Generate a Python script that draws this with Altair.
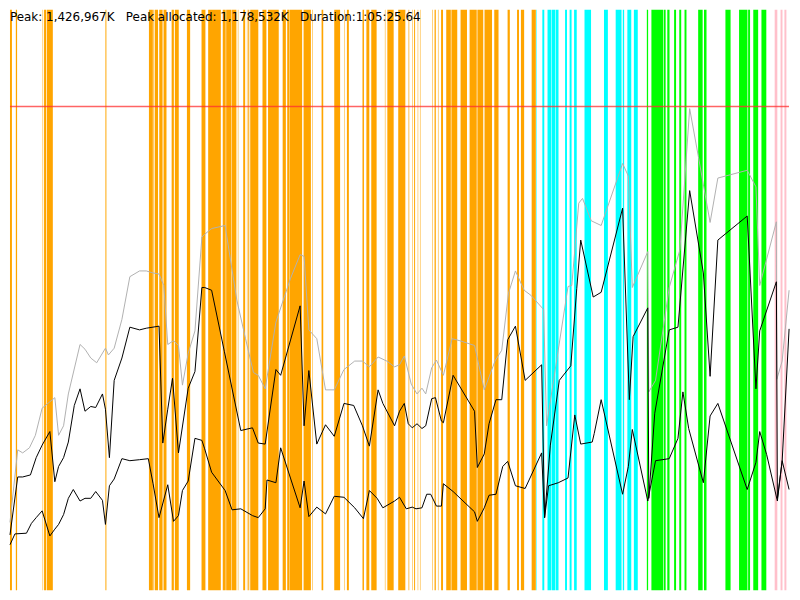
import altair as alt
import pandas as pd

# ---- summary values (text at top) ----
peak_k = "1,426,967K"
peak_alloc_k = "1,178,532K"
duration = "1:05:25.64"
duration_s = 3925.64
peak_mb = 1426.967
y_max_mb = 1712.4

# ---- GC / phase bars: start and end time (seconds) ----
orange_start = [0, 29.4, 164.4, 171.7, 186.5, 480.9, 700.2, 722.8, 729.7, 752.2, 773.8, 814.6, 830.8, 891.6, 965.2,
                998.6, 1072.2, 1089.4, 1118.8, 1148.2, 1175.2, 1193.9, 1200.7, 1210.6, 1272.4, 1300.4, 1374, 1397,
                1408.3, 1479.5, 1523.6, 1570.2, 1634, 1685.6, 1697.8, 1776.3, 1796, 1820.5, 1889.2, 1901.5, 1956.4,
                2008.4, 2026.6, 2036.4, 2054.6, 2065.9, 2127.2, 2139.5, 2156.6, 2172.3, 2198.3, 2224.4, 2270.5,
                2316.1, 2355.4, 2391.2, 2440.3, 2507.5, 2555.1, 2574.7, 2628.7]
orange_end = [9.8, 35.8, 166.8, 183, 215.9, 485.8, 719.9, 726.2, 745.9, 768.9, 788.6, 825.8, 850.4, 907.8, 984.8,
              1062.4, 1086.9, 1116.3, 1140.9, 1150.7, 1185, 1196.3, 1205.7, 1251.3, 1292, 1354.3, 1390.2, 1406.8,
              1472.1, 1516.3, 1526.1, 1578.5, 1663.5, 1688, 1707.6, 1783.7, 1810.7, 1847.5, 1891.7, 1933.4, 1992.2,
              2011.9, 2029, 2041.3, 2057, 2068.3, 2129.7, 2145.8, 2159.1, 2182.1, 2221.4, 2253.8, 2302.9,
              2352, 2384.8, 2429, 2461.8, 2518.8, 2564.9, 2590.9, 2649.8]
cyan_start = [2651.3, 2682.6, 2708.7, 2730.7, 2750.4, 2797, 2820.1, 2842.6, 2895.1, 2993.3, 3052.2, 3088, 3111, 3143.9]
cyan_end = [2653.7, 2692.4, 2728.3, 2747.9, 2764.1, 2806.8, 2829.9, 2855.9, 2928, 3012.9, 3081.6, 3094.8, 3130.7, 3163.5]
green_start = [3209.2, 3232.2, 3294.1, 3312.2, 3346.6, 3372.6, 3399.1, 3467.8, 3497.2, 3605.2, 3673.9, 3719.5, 3745.5, 3786.7]
green_end = [3215.6, 3291.1, 3303.9, 3323.5, 3356.4, 3382.4, 3408.9, 3490.4, 3509.9, 3631.2, 3716.1, 3729.3, 3770.1, 3811.2]
pink_start = [3853.4, 3883, 3902.5]
pink_end = [3866.7, 3892.7, 3912.4]

# ---- memory series (time s, MB) ----
committed_t = [0, 39, 64, 98, 128, 162, 191, 226, 245, 270, 294, 353, 378, 407, 437, 481, 496, 525, 564, 604, 653, 687,
               721, 751, 775, 795, 824, 849, 869, 898, 932, 967, 981, 1016, 1084, 1143, 1187, 1227, 1251, 1286, 1340,
               1413, 1462, 1482, 1506, 1546, 1590, 1634, 1683, 1737, 1776, 1811, 1855, 1899, 1938, 1963, 1987, 2022,
               2051, 2076, 2095, 2125, 2149, 2184, 2228, 2267, 2341, 2390, 2444, 2478, 2512, 2547, 2591, 2625, 2689,
               2704, 2812, 2831, 2866, 2885, 2929, 2979, 3087, 3116, 3136, 3214, 3219, 3253, 3322, 3376, 3425, 3469,
               3528, 3567, 3715, 3759, 3778, 3862, 3864, 3891, 3926]
committed_mb = [200, 414, 405, 420, 457, 537, 551, 568, 457, 485, 579, 725, 711, 685, 671, 714, 694, 714, 799, 925, 942,
                942, 936, 933, 899, 725, 736, 722, 605, 699, 765, 1042, 1050, 1067, 1076, 856, 742, 642, 634, 594, 791,
                919, 990, 985, 768, 742, 591, 591, 651, 676, 676, 659, 688, 676, 659, 665, 691, 608, 579, 596, 579, 656,
                679, 634, 742, 736, 722, 591, 676, 708, 876, 942, 885, 870, 828, 485, 896, 899, 1142, 1156, 1090, 1076,
                1259, 1222, 893, 999, 585, 619, 893, 1005, 1421, 1279, 1085, 1216, 1239, 1190, 899, 1087, 622, 676, 885]

alloc_t = [0, 39, 64, 103, 132, 162, 201, 226, 245, 270, 294, 324, 353, 378, 407, 432, 466, 481, 501, 525, 564, 604, 653,
           687, 751, 770, 795, 819, 849, 898, 932, 967, 981, 1016, 1080, 1163, 1222, 1251, 1286, 1340, 1364, 1462, 1482,
           1506, 1546, 1590, 1634, 1683, 1732, 1776, 1811, 1855, 1879, 1938, 1963, 1987, 2007, 2027, 2051, 2076, 2095,
           2125, 2144, 2174, 2184, 2233, 2341, 2355, 2390, 2414, 2449, 2478, 2508, 2547, 2596, 2679, 2694, 2723, 2768,
           2826, 2856, 2876, 2939, 2979, 3087, 3121, 3140, 3214, 3219, 3249, 3322, 3366, 3425, 3494, 3528, 3567, 3715,
           3759, 3778, 3862, 3867, 3891, 3926]
alloc_mb = [163, 334, 334, 340, 391, 428, 468, 320, 365, 391, 437, 545, 594, 528, 542, 539, 579, 534, 391, 619, 685, 776,
            768, 773, 779, 434, 534, 625, 405, 596, 645, 893, 893, 885, 705, 471, 479, 434, 431, 651, 634, 839, 485, 648,
            431, 488, 454, 551, 545, 485, 425, 591, 551, 485, 528, 551, 491, 479, 491, 477, 485, 565, 568, 499, 494, 634,
            528, 362, 402, 491, 562, 562, 739, 779, 619, 665, 214, 428, 619, 662, 890, 1033, 865, 879, 1127, 562, 748,
            833, 271, 522, 768, 776, 1179, 936, 631, 1033, 1104, 594, 765, 910, 271, 380, 771]

used_t = [0, 25, 83, 108, 132, 162, 201, 226, 245, 270, 294, 319, 353, 378, 407, 432, 466, 481, 501, 525, 564, 604, 653,
          697, 721, 751, 795, 824, 849, 869, 898, 932, 967, 981, 1016, 1084, 1119, 1163, 1222, 1251, 1286, 1295, 1340,
          1364, 1462, 1482, 1506, 1546, 1590, 1634, 1683, 1737, 1781, 1811, 1850, 1879, 1938, 1963, 1997, 2027, 2046,
          2076, 2100, 2120, 2149, 2174, 2184, 2233, 2341, 2355, 2390, 2414, 2449, 2483, 2508, 2547, 2596, 2679, 2694,
          2714, 2763, 2812, 2846, 2876, 2934, 2944, 2979, 3087, 3116, 3136, 3214, 3253, 3322, 3366, 3391, 3420, 3494,
          3528, 3567, 3715, 3759, 3778, 3813, 3867, 3891, 3926]
used_mb = [134, 166, 168, 197, 214, 234, 160, 180, 194, 223, 271, 297, 263, 271, 271, 291, 265, 194, 308, 328, 388, 382,
           385, 388, 314, 214, 311, 203, 220, 294, 322, 448, 442, 417, 348, 294, 237, 240, 220, 214, 240, 325, 317, 420,
           243, 322, 217, 245, 225, 277, 274, 243, 211, 294, 271, 243, 263, 274, 240, 245, 240, 243, 283, 283, 248, 248,
           314, 291, 231, 203, 243, 280, 283, 365, 380, 308, 300, 405, 214, 308, 317, 331, 517, 431, 437, 462, 562, 283,
           365, 474, 263, 382, 388, 448, 585, 477, 317, 514, 551, 297, 377, 468, 400, 263, 382, 297]

# ---- tables ----
bars = pd.concat([
    pd.DataFrame({"start": orange_start, "end": orange_end, "kind": "minor"}),
    pd.DataFrame({"start": cyan_start, "end": cyan_end, "kind": "concurrent"}),
    pd.DataFrame({"start": green_start, "end": green_end, "kind": "major"}),
    pd.DataFrame({"start": pink_start, "end": pink_end, "kind": "other"}),
], ignore_index=True)

committed = pd.DataFrame({"t": committed_t, "mb": committed_mb})
alloc = pd.DataFrame({"t": alloc_t, "mb": alloc_mb})
used = pd.DataFrame({"t": used_t, "mb": used_mb})
peak_df = pd.DataFrame({"mb": [peak_mb]})
label_df = pd.DataFrame({"label": [
    "Peak: " + peak_k + "\u00a0\u00a0\u00a0Peak allocated: " + peak_alloc_k + "\u00a0\u00a0\u00a0Duration:" + duration
]})

xs = alt.Scale(domain=[0, duration_s], nice=False, zero=False)
ys = alt.Scale(domain=[0, y_max_mb], nice=False, zero=True)

bar_layer = alt.Chart(bars).mark_rect(strokeWidth=0).encode(
    x=alt.X("start:Q", scale=xs, axis=None),
    x2="end:Q",
    color=alt.Color("kind:N", legend=None,
                    scale=alt.Scale(domain=["minor", "concurrent", "major", "other"],
                                    range=["#ffa500", "#00ffff", "#00ff00", "#ffc0cb"])),
)

peak_layer = alt.Chart(peak_df).mark_rule(color="#ff3030", strokeWidth=1.5, opacity=0.75).encode(
    y=alt.Y("mb:Q", scale=ys, axis=None)
)

def line(df, color):
    return alt.Chart(df).mark_line(color=color, strokeWidth=1).encode(
        x=alt.X("t:Q", scale=xs, axis=None),
        y=alt.Y("mb:Q", scale=ys, axis=None),
        order="t:Q",
    )

text_layer = alt.Chart(label_df).mark_text(
    align="left", baseline="alphabetic", font="DejaVu Sans", fontSize=12, color="black"
).encode(x=alt.value(0), y=alt.value(11), text="label:N")

chart = alt.layer(
    bar_layer, peak_layer,
    line(committed, "#b0b0b0"),
    line(alloc, "#000000"),
    line(used, "#000000"),
    text_layer,
).properties(
    width=784, height=584, padding=0, background="white"
).configure_view(stroke=None)

chart.save("out.html", embed_options={"renderer": "svg", "actions": False})
